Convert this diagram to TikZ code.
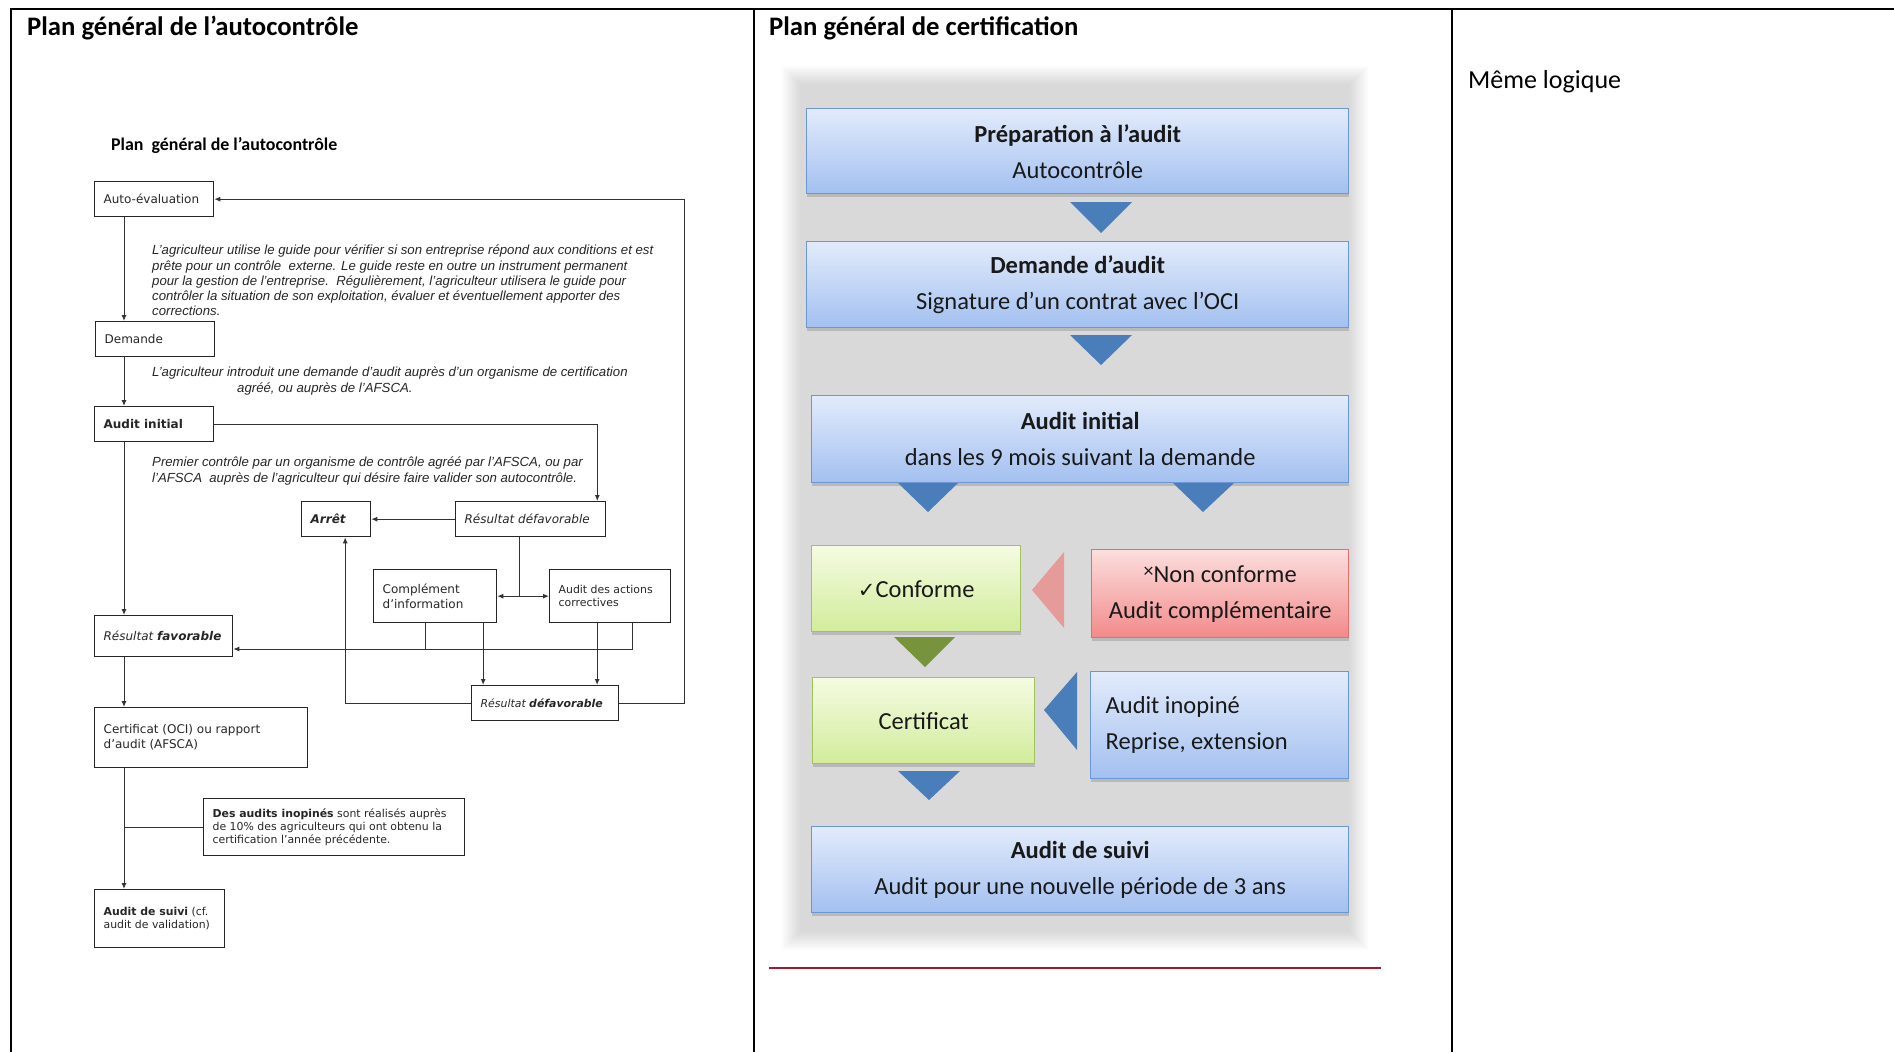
\documentclass[tikz,border=0pt]{standalone}
\usepackage{fontspec}
\setmainfont{Carlito}
\newfontfamily\boxfont{DejaVu Sans}
\newfontfamily\parfont{Liberation Sans}
\usetikzlibrary{positioning,arrows.meta,shadows}

\definecolor{bluetop}{RGB}{226,235,251}
\definecolor{bluebot}{RGB}{163,192,240}
\definecolor{blueline}{RGB}{108,150,212}
\definecolor{bluetri}{RGB}{74,126,187}
\definecolor{greentop}{RGB}{245,251,226}
\definecolor{greenbot}{RGB}{210,236,155}
\definecolor{greenline}{RGB}{160,194,95}
\definecolor{greentri}{RGB}{119,147,60}
\definecolor{redtop}{RGB}{252,222,222}
\definecolor{redbot}{RGB}{242,138,138}
\definecolor{redline}{RGB}{226,110,110}
\definecolor{redtri}{RGB}{230,155,155}
\definecolor{rulered}{RGB}{168,22,50}

\tikzset{
	tbl/.style={line width=2.2pt},
	lbox/.style={draw=black!85, line width=1.3pt, anchor=north west, inner xsep=9pt, inner ysep=0pt, align=flush left, text=black!85, font=\boxfont\fontsize{12}{15}\selectfont},
	sbox/.style={lbox, font=\boxfont\fontsize{10.9}{13.3}\selectfont},
	para/.style={anchor=north west, inner sep=0pt, align=left, text=black!85, font=\parfont\itshape\fontsize{13.2}{15.2}\selectfont},
	link/.style={line width=1pt, draw=black!80},
	card/.style={anchor=north west, line width=1.4pt, inner xsep=0pt, inner ysep=0pt, align=flush center, text=black!90, font=\fontsize{24.5}{36}\selectfont, drop shadow={shadow xshift=0pt, shadow yshift=-3pt, opacity=.35}},
	bluecard/.style={card, draw=blueline, top color=bluetop, bottom color=bluebot},
	greencard/.style={card, draw=greenline, top color=greentop, bottom color=greenbot},
	redcard/.style={card, draw=redline, top color=redtop, bottom color=redbot}
}

\begin{document}
\begin{tikzpicture}[x=1pt,y=-1pt,>={Latex[length=6pt,width=5pt]}]
	\useasboundingbox (0,0) rectangle (1894,1052);
	\draw[tbl] (1894,9) -- (11,9) -- (11,1052);
	\draw[tbl] (754,9) -- (754,1052);
	\draw[tbl] (1452,9) -- (1452,1052);

	\node[anchor=base west, inner sep=0pt, font=\bfseries\fontsize{26.7}{30}\selectfont] (ttl1) at (27,35) {Plan général de l’autocontrôle};
	\node[anchor=base west, inner sep=0pt, font=\bfseries\fontsize{26.7}{30}\selectfont] (ttl2) at (769,35) {Plan général de certification};
	\node[anchor=base west, inner sep=0pt, font=\fontsize{26}{30}\selectfont] (meme) at (1468,88) {Même logique};

	% autocontrole
	\node[anchor=base west, inner sep=0pt, font=\bfseries\fontsize{17.9}{20}\selectfont] (sub) at (111,150) {Plan\ \ général de l’autocontrôle};
	\coordinate (spine) at (124,0);
	\node[lbox, text width=101pt, minimum height=35pt] (autoeval) at (94,181) {Auto-évaluation};
	\node[lbox, text width=101pt, minimum height=35pt] (demande) at (95,321) {Demande};
	\node[lbox, text width=101pt, minimum height=35pt] (initial) at (94,406) {\textbf{Audit initial}};
	\node[lbox, text width=51pt, minimum height=35pt] (arret) at (301,501) {\textbf{\textit{Arrêt}}};
	\node[lbox, text width=132pt, minimum height=35pt] (defav1) at (455,501) {\textit{Résultat défavorable}};
	\node[lbox, text width=105pt, minimum height=53pt] (complement) at (373,569) {Complément\\d’information};
	\node[sbox, text width=103pt, minimum height=53pt] (actions) at (549,569) {Audit des actions\\correctives};
	\node[lbox, text width=120pt, minimum height=41pt] (favorable) at (94,615) {\textit{Résultat \textbf{favorable}}};
	\node[sbox, text width=129pt, minimum height=35pt] (defav2) at (471,685) {\textit{Résultat \textbf{défavorable}}};
	\node[lbox, text width=195pt, minimum height=60pt] (certificat) at (94,707) {Certificat (OCI) ou rapport\\d’audit (AFSCA)};
	\node[sbox, text width=243pt, minimum height=57pt] (inopines) at (203,798) {\textbf{Des audits inopinés} sont réalisés auprès\\de 10\% des agriculteurs qui ont obtenu la\\certification l’année précédente.};
	\node[sbox, text width=112pt, minimum height=58pt] (suivi) at (94,889) {\textbf{Audit de suivi} (cf.\\audit de validation)};

	\node[para] (txt1) at (152,245) {L’agriculteur utilise le guide pour vérifier si son entreprise répond aux conditions et est\\prête pour un contrôle\ \ externe. Le guide reste en outre un instrument permanent\\pour la gestion de l’entreprise.\ \ Régulièrement, l’agriculteur utilisera le guide pour\\contrôler la situation de son exploitation, évaluer et éventuellement apporter des\\corrections.};
	\node[para] (txt2) at (152,367) {L’agriculteur introduit une demande d’audit auprès d’un organisme de certification\\\hspace*{85pt}agréé, ou auprès de l’AFSCA.};
	\node[para] (txt3) at (152,457) {Premier contrôle par un organisme de contrôle agréé par l’AFSCA, ou par\\l’AFSCA\ \ auprès de l’agriculteur qui désire faire valider son autocontrôle.};

	\draw[link,->] (autoeval.south -| spine) -- (demande.north -| spine);
	\draw[link,->] (demande.south -| spine) -- (initial.north -| spine);
	\draw[link,->] (initial.south -| spine) -- (favorable.north -| spine);
	\draw[link,->] (favorable.south -| spine) -- (certificat.north -| spine);
	\draw[link,->] (certificat.south -| spine) -- (suivi.north -| spine);
	\draw[link] (inopines.west) -- (inopines.west -| spine);
	\draw[link,->] (initial.east) -| ([xshift=-9pt]defav1.north east);
	\draw[link,->] (defav1.west) -- (arret.east);
	\draw[link,<->] (complement.east) -- (actions.west);
	\draw[link] ([xshift=-11pt]defav1.south) -- ([xshift=-11pt]defav1.south |- complement.east);
	\coordinate (backl) at (425,649);
	\coordinate (backr) at (632,649);
	\draw[link] (complement.south -| backl) -- (backl);
	\draw[link,->] (actions.south -| backr) -- (backr) -- (favorable.east |- backr);
	\draw[link,->] ([xshift=48pt]complement.south) -- ([xshift=48pt]complement.south |- defav2.north);
	\draw[link,->] ([xshift=-13pt]actions.south) -- ([xshift=-13pt]actions.south |- defav2.north);
	\draw[link,->] (defav2.west) -| ([xshift=9pt]arret.south);
	\draw[link,->] (defav2.east) -- ++(65,0) |- (autoeval.east);

	% certification
	\foreach \i in {0,...,9}
		\fill[black,opacity=.017] (782+2*\i,66+2*\i) rectangle (1368-2*\i,950-2*\i);
	\node[bluecard, text width=542pt, minimum height=85pt] (prep) at (806,108) {\textbf{Préparation à l’audit}\\Autocontrôle};
	\node[bluecard, text width=542pt, minimum height=86pt] (dem) at (806,241) {\textbf{Demande d’audit}\\Signature d’un contrat avec l’OCI};
	\node[bluecard, text width=537pt, minimum height=87pt] (ini) at (811,395) {\textbf{Audit initial}\\dans les 9 mois suivant la demande};
	\node[greencard, text width=209pt, minimum height=86pt] (conf) at (811,545) {{\boxfont\fontsize{21}{21}\selectfont ✓}Conforme};
	\node[redcard, text width=257pt, minimum height=88pt] (nonconf) at (1091,549) {{\fontsize{20}{20}\selectfont\raisebox{5pt}{×}}Non conforme\\Audit complémentaire};
	\node[greencard, text width=222pt, minimum height=86pt] (cert) at (812,677) {Certificat};
	\node[bluecard, align=flush left, inner xsep=15pt, text width=228pt, minimum height=107pt] (inop) at (1090,671) {Audit inopiné\\Reprise, extension};
	\node[bluecard, text width=537pt, minimum height=86pt] (suiv) at (811,826) {\textbf{Audit de suivi}\\Audit pour une nouvelle période de 3 ans};

	\fill[bluetri] (1070,202) -- (1132,202) -- (1101,233) -- cycle;
	\fill[bluetri] (1070,335) -- (1132,335) -- (1101,365) -- cycle;
	\fill[bluetri] (898,483) -- (958,483) -- (928,512) -- cycle;
	\fill[bluetri] (1173,483) -- (1234,483) -- (1203,512) -- cycle;
	\fill[greentri] (894,637) -- (955,637) -- (925,667) -- cycle;
	\fill[bluetri] (898,771) -- (960,771) -- (929,800) -- cycle;
	\fill[redtri] (1064,552) -- (1064,628) -- (1032,590) -- cycle;
	\fill[bluetri] (1077,672) -- (1077,750) -- (1044,710) -- cycle;

	\draw[rulered, line width=2pt] (769,968) -- (1381,968);
\end{tikzpicture}
\end{document}
